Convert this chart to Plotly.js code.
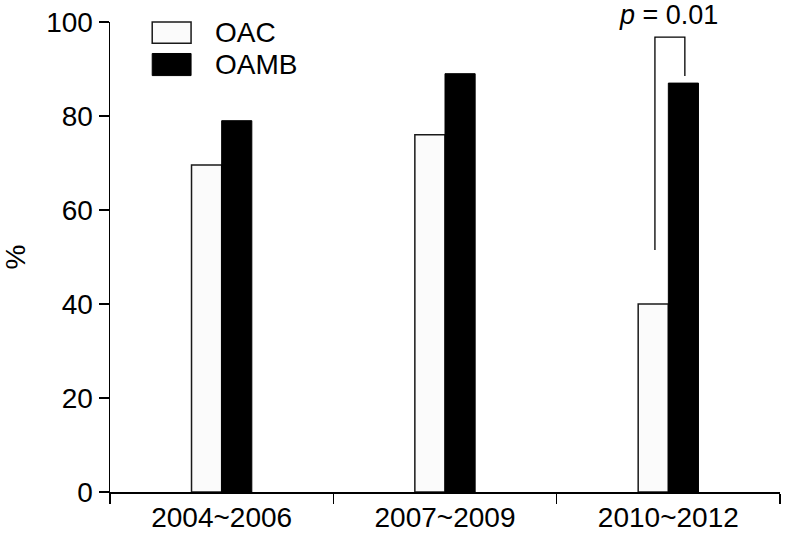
<!DOCTYPE html>
<html><head><meta charset="utf-8">
<script src="https://cdn.plot.ly/plotly-3.0.1.min.js"></script>
<style>body{margin:0;background:#fff}#chart{width:786px;height:536px}</style>
</head><body><div id="chart"></div>
<script>
var categories = ["2004~2006", "2007~2009", "2010~2012"];
var oac = [69.6, 76, 40];
var oamb = [79, 89, 87];
var seriesNames = ["OAC", "OAMB"];
var yTicks = [0, 20, 40, 60, 80, 100];
var pLabel = "<i>p</i> = 0.01";

var FONT = "'Liberation Sans', Arial, Helvetica, sans-serif";
var FS = 28;

var traces = [
  {type: "bar", name: seriesNames[0], x: categories, y: oac,
   marker: {color: "#fbfbfb", line: {color: "#1a1a1a", width: 1.5}}, showlegend: false},
  {type: "bar", name: seriesNames[1], x: categories, y: oamb,
   marker: {color: "#000000", line: {color: "#000000", width: 1}}, showlegend: false}
];

var layout = {
  width: 786, height: 536,
  margin: {l: 110, r: 6, t: 22, b: 44},
  paper_bgcolor: "#fff", plot_bgcolor: "#fff",
  barmode: "group", bargap: 0.73, bargroupgap: 0,
  font: {family: FONT, size: FS, color: "#000"},
  xaxis: {type: "category", tickson: "boundaries", ticks: "outside", ticklen: 10, tickwidth: 1.5,
          tickcolor: "#000", showline: true, linecolor: "#000", linewidth: 1.5,
          showgrid: false, zeroline: false, range: [-0.5, 2.5],
          tickfont: {family: FONT, size: FS}},
  yaxis: {range: [0, 100], tickvals: yTicks, ticks: "outside", ticklen: 10, tickwidth: 1.5,
          tickcolor: "#000", showline: true, linecolor: "#000", linewidth: 1.5,
          showgrid: false, zeroline: false,
          title: {text: "%", font: {family: FONT, size: FS}, standoff: 30},
          tickfont: {family: FONT, size: FS}},
  shapes: [
    {type: "path", xref: "x", yref: "y",
     path: "M 1.94 51.5 L 1.94 96.8 L 2.074 96.8 L 2.074 88.5",
     line: {color: "#000", width: 1.3}},
    {type: "rect", xref: "paper", yref: "paper", x0: 0.063, x1: 0.121, y0: 0.955, y1: 1.0,
     fillcolor: "#fbfbfb", line: {color: "#1a1a1a", width: 1.5}},
    {type: "rect", xref: "paper", yref: "paper", x0: 0.063, x1: 0.121, y0: 0.886, y1: 0.933,
     fillcolor: "#000", line: {color: "#000", width: 1}}
  ],
  annotations: [
    {xref: "x", yref: "paper", x: 2.0, y: 1.0, yshift: 7, text: pLabel, showarrow: false,
     font: {family: FONT, size: 27}, xanchor: "center", yanchor: "middle"},
    {xref: "paper", yref: "paper", x: 0.153, y: 0.978, text: seriesNames[0], showarrow: false,
     xanchor: "left", yanchor: "middle", font: {family: FONT, size: FS}},
    {xref: "paper", yref: "paper", x: 0.153, y: 0.910, text: seriesNames[1], showarrow: false,
     xanchor: "left", yanchor: "middle", font: {family: FONT, size: FS}}
  ]
};
Plotly.newPlot("chart", traces, layout, {staticPlot: true});
</script></body></html>
